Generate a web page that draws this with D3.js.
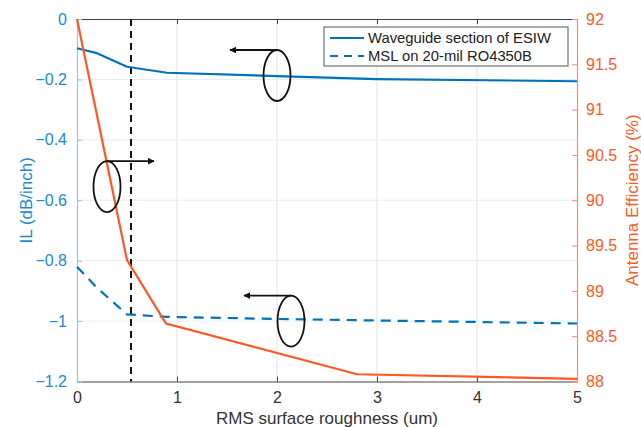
<!DOCTYPE html>
<html><head><meta charset="utf-8">
<script src="https://cdn.jsdelivr.net/npm/d3@7"></script>
<style>body{margin:0;background:#fff}svg{display:block}text{font-family:"Liberation Sans",Arial,sans-serif}</style>
</head><body>
<svg id="c" width="641" height="427"></svg>
<script>
// Data
const esiwX = [0, 0.2, 0.5, 0.9, 2, 3, 5];
const esiwIL = [-0.097, -0.113, -0.158, -0.178, -0.189, -0.199, -0.206];
const mslX = [0, 0.2, 0.5, 0.9, 2, 3, 5];
const mslIL = [-0.82, -0.89, -0.978, -0.986, -0.993, -0.998, -1.008];
const effX = [0, 0.5, 0.89, 2.8, 5];
const effVal = [92, 89.34, 88.64, 88.08, 88.03];
const xTicks = [0, 1, 2, 3, 4, 5];
const ilTicks = [0, -0.2, -0.4, -0.6, -0.8, -1, -1.2];
const effTicks = [92, 91.5, 91, 90.5, 90, 89.5, 89, 88.5, 88];
const markerX = 0.54;
const legendLabels = ["Waveguide section of ESIW", "MSL on 20-mil RO4350B"];
// annotations: [x, IL-center, direction]
const annots = [{x: 2.0, il: -0.187, dir: -1}, {x: 0.3, il: -0.555, dir: 1}, {x: 2.14, il: -1.0, dir: -1}];

const L = 77, R = 577, T = 19, B = 381.5;
const blue = "#0072BD", blueTxt = "#1a8ad6", orange = "#ff5722", orangeTxt = "#ff5a24";
const svg = d3.select("#c");
const x = d3.scaleLinear().domain([0, 5]).range([L, R]);
const yL = d3.scaleLinear().domain([-1.2, 0]).range([B, T]);
const yR = d3.scaleLinear().domain([88, 92]).range([B, T]);

// grid
svg.append("g").selectAll("line").data(xTicks.slice(1, -1)).join("line")
  .attr("x1", d => x(d)).attr("x2", d => x(d)).attr("y1", T).attr("y2", B)
  .attr("stroke", "#e3e3e3").attr("stroke-width", 1);
svg.append("g").selectAll("line").data(ilTicks.slice(1, -1)).join("line")
  .attr("x1", L).attr("x2", R).attr("y1", d => yL(d)).attr("y2", d => yL(d))
  .attr("stroke", "#e3eef6").attr("stroke-width", 1);

// axes
const xAxis = d3.axisBottom(x).tickValues(xTicks).tickSize(-5).tickPadding(10).tickFormat(d3.format("d"));
const gx = svg.append("g").attr("transform", `translate(0,${B})`).call(xAxis);
gx.select(".domain").attr("stroke", "#444").attr("stroke-width", 1);
gx.selectAll(".tick line").attr("stroke", "#444");
gx.selectAll("text").attr("font-size", 16).attr("fill", "#333");
const gxt = svg.append("g").attr("transform", `translate(0,${T})`).call(d3.axisTop(x).tickValues(xTicks).tickSize(-5).tickFormat(""));
gxt.select(".domain").attr("stroke", "#444");
gxt.selectAll(".tick line").attr("stroke", "#444");

const gl = svg.append("g").attr("transform", `translate(${L},0)`)
  .call(d3.axisLeft(yL).tickValues(ilTicks).tickSize(-5).tickPadding(10).tickFormat(d => d === 0 ? "0" : d3.format("")(d)));
gl.select(".domain").attr("stroke", "#8cc6ea").attr("stroke-width", 1.2);
gl.selectAll(".tick line").attr("stroke", "#8cc6ea");
gl.selectAll("text").attr("font-size", 16).attr("fill", blueTxt);

const gr = svg.append("g").attr("transform", `translate(${R},0)`)
  .call(d3.axisRight(yR).tickValues(effTicks).tickSize(-5).tickPadding(9).tickFormat(d3.format("")));
gr.select(".domain").attr("stroke", "#ff8a66").attr("stroke-width", 1.2);
gr.selectAll(".tick line").attr("stroke", "#ff8a66");
gr.selectAll("text").attr("font-size", 16).attr("fill", orangeTxt);

// titles
svg.append("text").attr("x", (L + R) / 2).attr("y", 424).attr("text-anchor", "middle")
  .attr("font-size", 17).attr("fill", "#333").text("RMS surface roughness (um)");
svg.append("text").attr("transform", `translate(32,${(T + B) / 2}) rotate(-90)`).attr("text-anchor", "middle")
  .attr("font-size", 17).attr("fill", blueTxt).text("IL (dB/inch)");
svg.append("text").attr("transform", `translate(638,${(T + B) / 2}) rotate(-90)`).attr("text-anchor", "middle")
  .attr("font-size", 17).attr("fill", orangeTxt).text("Antenna Efficiency (%)");

// marker line
svg.append("line").attr("x1", x(markerX)).attr("x2", x(markerX)).attr("y1", T).attr("y2", B)
  .attr("stroke", "#111").attr("stroke-width", 2).attr("stroke-dasharray", "7,5");

// series
const lineL = (xs) => d3.line().x((d, i) => x(xs[i])).y(d => yL(d));
svg.append("path").datum(esiwIL).attr("d", lineL(esiwX)).attr("fill", "none").attr("stroke", blue).attr("stroke-width", 2.2).attr("stroke-linejoin", "round");
svg.append("path").datum(mslIL).attr("d", lineL(mslX)).attr("fill", "none").attr("stroke", blue).attr("stroke-width", 2.2).attr("stroke-dasharray", "10,7");
svg.append("path").datum(effVal).attr("d", d3.line().x((d, i) => x(effX[i])).y(d => yR(d)))
  .attr("fill", "none").attr("stroke", orange).attr("stroke-width", 2.2);

// annotations
const defs = svg.append("defs");
defs.append("marker").attr("id", "ah").attr("viewBox", "0 0 10 10").attr("refX", 9).attr("refY", 5)
  .attr("markerWidth", 7).attr("markerHeight", 7).attr("markerUnits", "userSpaceOnUse").attr("orient", "auto")
  .append("path").attr("d", "M0,0L10,5L0,10z").attr("fill", "#111");
annots.forEach(a => {
  const cx = x(a.x), cy = yL(a.il);
  svg.append("ellipse").attr("cx", cx).attr("cy", cy).attr("rx", 13.5).attr("ry", 25.5)
    .attr("fill", "none").attr("stroke", "#111").attr("stroke-width", 1.8);
  svg.append("line").attr("x1", cx).attr("y1", cy - 25.5).attr("x2", cx + a.dir * 47).attr("y2", cy - 25.5)
    .attr("stroke", "#111").attr("stroke-width", 1.8).attr("marker-end", "url(#ah)");
});

// legend
const lg = svg.append("g");
lg.append("rect").attr("x", 324).attr("y", 27).attr("width", 244).attr("height", 39)
  .attr("fill", "#fff").attr("stroke", "#555").attr("stroke-width", 1);
legendLabels.forEach((t, i) => {
  const yy = 38 + i * 18;
  lg.append("line").attr("x1", 330).attr("x2", 364).attr("y1", yy).attr("y2", yy)
    .attr("stroke", blue).attr("stroke-width", 2.2).attr("stroke-dasharray", i ? "8,6" : null);
  lg.append("text").attr("x", 368).attr("y", yy + 5).attr("font-size", 14.8).attr("fill", "#222").text(t);
});
</script>
</body></html>
